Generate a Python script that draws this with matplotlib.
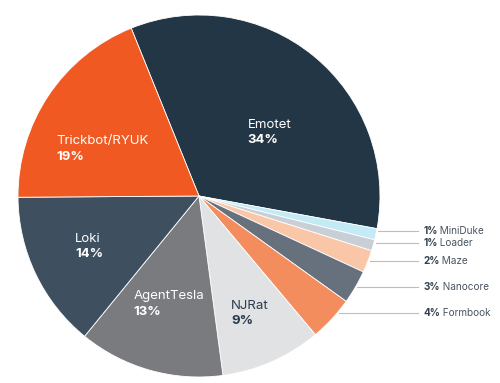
import numpy as np
import matplotlib
matplotlib.use("Agg")
import matplotlib.pyplot as plt

plt.rcParams['font.family'] = ['Inter', 'DejaVu Sans']

# malware family share (%), clockwise from Emotet
families = ["Emotet", "MiniDuke", "Loader", "Maze", "Nanocore", "Formbook",
            "NJRat", "AgentTesla", "Loki", "Trickbot/RYUK"]
shares = [34, 1, 1, 2, 3, 4, 9, 13, 14, 19]
colors = ["#223645", "#c3ebf6", "#c9cfd6", "#fac6a8", "#67717d", "#f48d5e",
          "#e1e2e4", "#7a7b7f", "#3e5060", "#f05a22"]

# big wedges get inside labels: (radius fraction, angle nudge in degrees)
inside_pos = {"Emotet": (0.53, -8), "Trickbot/RYUK": (0.60, 7), "Loki": (0.67, -2),
              "AgentTesla": (0.61, 0), "NJRat": (0.70, 0)}
dark_text = ["NJRat"]
# small wedges get callouts: where along the wedge the leader leaves the edge
callout_frac = {"MiniDuke": 0.2, "Loader": 0.3, "Maze": 0.5, "Nanocore": 0.5,
                "Formbook": 0.33}

fig = plt.figure(figsize=(5.0, 3.83), dpi=100)
ax = fig.add_axes([0, 0, 1, 1])

wedges, _ = ax.pie(shares, colors=colors, startangle=112, counterclock=False,
                   radius=1.0, wedgeprops=dict(edgecolor="white", linewidth=0.6))

ax.set_xlim(-199 / 181, 301 / 181)
ax.set_ylim(-187 / 181, 196 / 181)
ax.axis("off")

for w, name, val in zip(wedges, families, shares):
    if name in inside_pos:
        r, nudge = inside_pos[name]
        mid = np.deg2rad((w.theta1 + w.theta2) / 2 + nudge)
        x, y = r * np.cos(mid), r * np.sin(mid)
        col = "#2b3b4b" if name in dark_text else "white"
        t = ax.text(x, y, name, ha="center", va="bottom", fontsize=9.5, color=col)
        ax.annotate(f"{val}%", xy=(0, 0), xycoords=t, xytext=(0, -2.5),
                    textcoords="offset points", ha="left", va="top",
                    fontsize=9.5, fontweight="bold", color=col)
    else:
        f = callout_frac[name]
        ang = np.deg2rad(w.theta2 - f * (w.theta2 - w.theta1))
        ex, ey = np.cos(ang), np.sin(ang)
        ax.plot([ex + 0.01, 1.21], [ey, ey], color="#b7bec6", lw=0.8)
        t = ax.text(1.238, ey, f"{val}%", ha="left", va="center", fontsize=7.2,
                    fontweight="bold", color="#34404c")
        ax.annotate(" " + name, xy=(1, 0.5), xycoords=t, ha="left", va="center",
                    fontsize=7.2, color="#4a5560")

fig.savefig("out.png", dpi=100)
